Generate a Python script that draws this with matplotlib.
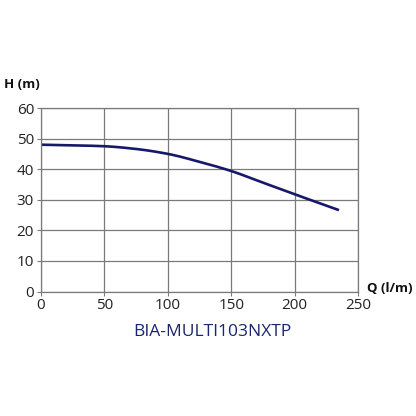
import matplotlib
matplotlib.use("Agg")
import matplotlib.pyplot as plt
import numpy as np

q_values = [0, 25, 50, 75, 100, 125, 150, 175, 200, 235]
h_values = [48.0, 47.8, 47.5, 46.6, 45.0, 42.4, 39.4, 35.6, 31.8, 26.6]
x_ticks = [0, 50, 100, 150, 200, 250]
y_ticks = [0, 10, 20, 30, 40, 50, 60]
title = "BIA-MULTI103NXTP"
x_label = "Q (l/m)"
y_label = "H (m)"

plt.rcParams['font.family'] = ['Open Sans', 'DejaVu Sans']

fig = plt.figure(figsize=(4.16, 4.16), dpi=100)
ax = fig.add_axes([41/416, 1-291.5/416, (358-41)/416, (291.5-108)/416])

qs = np.array(q_values, float)
hs = np.array(h_values, float)
def pchip(x, y, xn):
    h = np.diff(x); d = np.diff(y)/h
    m = np.zeros_like(y)
    for k in range(1, len(x)-1):
        if d[k-1]*d[k] > 0:
            w1 = 2*h[k]+h[k-1]; w2 = h[k]+2*h[k-1]
            m[k] = (w1+w2)/(w1/d[k-1]+w2/d[k])
    m[0] = d[0]; m[-1] = d[-1]
    out = np.empty_like(xn)
    for i, xv in enumerate(xn):
        k = min(np.searchsorted(x, xv) - 1, len(x)-2); k = max(k, 0)
        t = (xv - x[k])/h[k]
        h00 = 2*t**3-3*t**2+1; h10 = t**3-2*t**2+t
        h01 = -2*t**3+3*t**2; h11 = t**3-t**2
        out[i] = h00*y[k]+h10*h[k]*m[k]+h01*y[k+1]+h11*h[k]*m[k+1]
    return out
xn = np.linspace(qs[0], qs[-1], 300)
ax.plot(xn, pchip(qs, hs, xn), color='#16196a', lw=1.9, solid_capstyle='butt')

ax.set_xlim(0, 250)
ax.set_ylim(0, 60)
ax.set_xticks(x_ticks)
ax.set_yticks(y_ticks)
ax.grid(True, color='#7a7a7a', lw=0.9)
ax.set_axisbelow(True)
for s in ax.spines.values():
    s.set_color('#7a7a7a'); s.set_linewidth(0.9)
ax.tick_params(length=3, color='#7a7a7a', labelsize=11, labelcolor='#222222', pad=2)

fig.text(4/416, 1-85/416, y_label, fontsize=9.5, fontweight='bold', ha='left', va='center', color='#111111')
fig.text(367/416, 1-288/416, x_label, fontsize=9.5, fontweight='bold', ha='left', va='center', color='#111111')
fig.text(212/416, 1-332/416, title, fontsize=12.5, ha='center', va='center', color='#1a2570')

fig.savefig("out.png", dpi=100)
